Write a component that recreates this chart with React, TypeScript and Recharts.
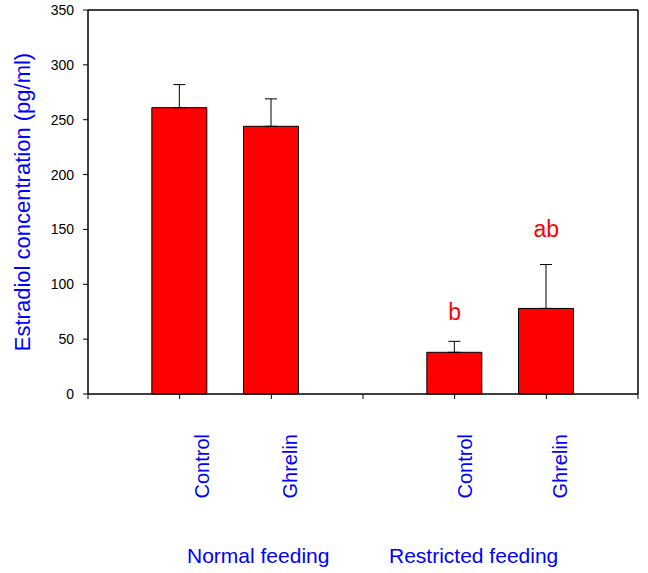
import {
    ComposedChart, Bar, ErrorBar, Scatter, XAxis, YAxis,
    ReferenceLine, Label
} from "recharts";

const conditions = ["Control", "Ghrelin", "Control", "Ghrelin"];
const positions = [1, 2, 4, 5];
const means = [261, 244, 38, 78];
const sems = [21, 25, 10, 40];
const sigLetters = ["", "", "b", "ab"];
const sigLevels = [0, 0, 67, 143];
const groups = ["Normal feeding", "Restricted feeding"];
const xTicks = [0, 1, 2, 3, 4, 5, 6];
const yTicks = [0, 50, 100, 150, 200, 250, 300, 350];

const FONT = "'Liberation Sans', Arial, sans-serif";
const BLUE = "#0000ff";
const RED = "#ff0000";

// hand placed label nudges, as in the original figure
const LABEL_DX: Record<number, number> = { 1: 22, 2: 19, 4: 10, 5: 14 };
const GROUP_LEFT = [187, 389];

const data = positions.map((pos, i) => ({
    pos,
    name: conditions[i],
    mean: means[i],
    err: [0, sems[i]],
}));

const letters = positions
    .map((pos, i) => ({ pos, level: sigLevels[i], text: sigLetters[i] }))
    .filter((d) => d.text !== "");

const XTick = ({ x, y, payload }: any) => {
    const i = positions.indexOf(payload.value);
    if (i < 0) return <g />;
    const tx = x + (LABEL_DX[payload.value] || 0);
    const ty = y + 33;
    return (
        <text
            x={tx}
            y={ty}
            transform={`rotate(-90, ${tx}, ${ty})`}
            textAnchor="end"
            dominantBaseline="central"
            fill={BLUE}
            fontSize={20}
            fontFamily={FONT}
        >
            {conditions[i]}
        </text>
    );
};

const YTick = ({ x, y, payload }: any) => (
    <text
        x={x}
        y={y}
        textAnchor="end"
        dominantBaseline="central"
        fill="#000"
        fontSize={14}
        fontFamily={FONT}
    >
        {payload.value}
    </text>
);

const Letter = ({ cx, cy, payload }: any) => (
    <text x={cx} y={cy} textAnchor="middle" fill={RED} fontSize={23} fontFamily={FONT}>
        {payload.text}
    </text>
);

export default function App() {
    return (
        <div style={{ position: "absolute", top: 0, left: 0, width: 648, height: 573 }}>
            <ComposedChart
                width={648}
                height={573}
                data={data}
                margin={{ top: 10, right: 10, bottom: 0, left: 0 }}
            >
                <XAxis
                    dataKey="pos"
                    type="number"
                    domain={[0, 6]}
                    ticks={xTicks}
                    interval={0}
                    height={179}
                    tick={<XTick />}
                    tickSize={5}
                    axisLine={{ stroke: "#000", strokeWidth: 1.5 }}
                    tickLine={{ stroke: "#000" }}
                />
                <YAxis
                    type="number"
                    domain={[0, 350]}
                    ticks={yTicks}
                    interval={0}
                    width={88}
                    tickSize={5}
                    tickMargin={9}
                    tick={<YTick />}
                    axisLine={{ stroke: "#000", strokeWidth: 1.5 }}
                    tickLine={{ stroke: "#000" }}
                >
                    <Label
                        value="Estradiol concentration (pg/ml)"
                        angle={-90}
                        position="insideLeft"
                        offset={22}
                        style={{ textAnchor: "middle", fill: BLUE, fontSize: 22, fontFamily: FONT }}
                    />
                </YAxis>
                <ReferenceLine y={350} stroke="#000" strokeWidth={1.5} />
                <ReferenceLine x={6} stroke="#000" strokeWidth={1.5} />
                <Bar
                    dataKey="mean"
                    fill={RED}
                    stroke="#000"
                    strokeWidth={1}
                    barSize={55}
                    isAnimationActive={false}
                >
                    <ErrorBar dataKey="err" width={6} stroke="#000" strokeWidth={1} direction="y" />
                </Bar>
                <Scatter
                    data={letters}
                    dataKey="level"
                    shape={<Letter />}
                    isAnimationActive={false}
                />
            </ComposedChart>
            {groups.map((g, i) => (
                <div
                    key={g}
                    style={{
                        position: "absolute",
                        left: GROUP_LEFT[i],
                        top: 545,
                        fontSize: 21,
                        lineHeight: "21px",
                        color: BLUE,
                        fontFamily: FONT,
                        whiteSpace: "nowrap",
                    }}
                >
                    {g}
                </div>
            ))}
        </div>
    );
}
